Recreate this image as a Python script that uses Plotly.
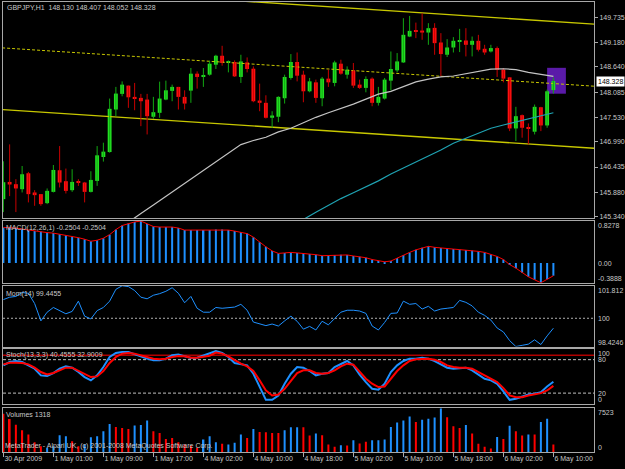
import plotly.graph_objects as go

W, H = 625, 469

# ---------------- data ----------------
bars = list(range(89))
time_labels = ["30 Apr 2009", "1 May 01:00", "1 May 09:00", "1 May 17:00", "4 May 02:00",
               "4 May 10:00", "4 May 18:00", "5 May 02:00", "5 May 10:00", "5 May 18:00",
               "6 May 02:00", "6 May 10:00"]
time_label_bars = [0, 8, 16, 24, 32, 40, 48, 56, 64, 72, 80, 88]

opens = [145.728, 146.107, 146.057, 145.947, 146.298, 145.875, 145.838, 145.640, 145.888, 146.364,
         146.123, 145.925, 146.101, 146.094, 145.888, 146.129, 146.656, 146.765, 147.702, 148.046,
         148.228, 147.980, 147.958, 147.921, 147.542, 147.629, 147.921, 148.112, 148.200, 147.980,
         148.118, 148.491, 148.432, 148.469, 148.689, 148.886, 148.748, 148.748, 148.419, 148.739,
         148.601, 147.899, 147.849, 147.520, 147.542, 147.950, 148.397, 148.748, 148.469, 148.103,
         148.300, 147.950, 148.382, 148.287, 148.711, 148.469, 148.564, 148.250, 148.178, 148.382,
         147.849, 147.943, 148.338, 148.564, 148.739, 149.309, 149.423, 149.441, 149.397, 149.500,
         149.178, 148.908, 149.068, 149.208, 149.222, 149.127, 149.215, 149.040, 148.980, 149.055,
         148.579, 148.410, 147.285, 147.577, 147.307, 147.213, 147.752, 147.351, 148.130]
highs = [146.561, 146.934, 146.167, 146.458, 146.327, 145.925, 145.838, 145.963, 146.480, 146.897,
         146.401, 146.386, 146.167, 146.107, 146.342, 146.897, 146.971, 147.943, 148.200, 148.322,
         148.228, 148.287, 148.046, 148.046, 147.980, 148.316, 148.338, 148.250, 148.200, 148.125,
         148.616, 148.542, 148.616, 148.776, 148.908, 149.105, 148.783, 148.783, 148.908, 148.849,
         148.651, 148.272, 148.015, 147.664, 147.993, 148.469, 148.923, 148.958, 148.557, 148.397,
         148.360, 148.419, 148.579, 148.776, 148.798, 148.651, 148.726, 148.360, 148.432, 148.410,
         148.200, 148.397, 148.980, 148.945, 149.713, 149.763, 149.616, 149.822, 149.603, 149.603,
         149.384, 149.252, 149.296, 149.478, 149.493, 149.309, 149.346, 149.127, 149.127, 149.090,
         148.616, 148.410, 147.761, 147.592, 147.395, 147.811, 147.761, 148.140, 148.407]
lows = [145.443, 145.794, 145.443, 145.875, 145.656, 145.581, 145.581, 145.618, 145.875, 145.985,
        145.853, 145.888, 146.020, 145.656, 145.875, 146.020, 146.555, 146.752, 147.555, 147.993,
        147.739, 147.686, 147.335, 147.153, 147.498, 147.520, 147.906, 147.884, 147.702, 147.702,
        147.849, 148.162, 148.200, 148.447, 148.594, 148.667, 148.520, 148.419, 148.287, 148.520,
        147.862, 147.664, 147.504, 147.300, 147.423, 147.833, 148.360, 148.322, 147.862, 148.081,
        147.849, 147.774, 148.200, 148.213, 148.469, 148.382, 148.178, 148.156, 148.081, 147.774,
        147.789, 147.921, 148.125, 148.520, 148.726, 149.296, 149.274, 149.237, 149.127, 148.908,
        148.432, 148.858, 148.958, 148.967, 148.871, 148.871, 148.980, 148.908, 148.958, 148.419,
        148.300, 147.226, 147.007, 147.081, 146.934, 147.153, 147.226, 147.300, 148.052]
closes = [146.101, 146.050, 145.963, 146.276, 145.838, 145.816, 145.618, 145.910, 146.371, 146.094,
          145.910, 146.107, 146.086, 145.888, 146.151, 146.693, 146.774, 147.717, 148.053, 148.250,
          147.971, 147.943, 147.884, 147.555, 147.643, 147.943, 148.125, 148.200, 147.980, 147.833,
          148.491, 148.419, 148.463, 148.711, 148.886, 148.726, 148.761, 148.432, 148.761, 148.594,
          147.884, 147.849, 147.520, 147.570, 147.980, 148.419, 148.748, 148.447, 148.103, 148.322,
          147.958, 148.382, 148.300, 148.739, 148.491, 148.579, 148.228, 148.178, 148.375, 147.849,
          147.980, 148.360, 148.594, 148.761, 149.347, 149.434, 149.412, 149.397, 149.493, 149.164,
          148.923, 149.068, 149.215, 149.222, 149.127, 149.215, 149.018, 148.958, 149.055, 148.579,
          148.382, 147.285, 147.555, 147.300, 147.294, 147.761, 147.351, 148.103, 148.328]

price_ticks = [149.735, 149.180, 148.640, 148.085, 147.530, 146.990, 146.435, 145.880, 145.340]
price_range = [145.311, 150.070]

# moving averages (bar index, price)
gray_ma_x = [20, 21, 22, 24, 26, 28, 30, 32, 34, 36, 38, 40, 42, 44, 46, 48, 50, 52, 54, 56,
             58, 60, 62, 64, 66, 68, 70, 72, 74, 76, 78, 80, 82, 84, 86, 88]
gray_ma = [145.22, 145.31, 145.41, 145.60, 145.79, 145.98, 146.17, 146.36, 146.56, 146.74,
           146.93, 147.02, 147.09, 147.21, 147.29, 147.41, 147.53, 147.63, 147.72, 147.82,
           147.93, 148.04, 148.10, 148.21, 148.31, 148.37, 148.42, 148.44, 148.49, 148.55,
           148.59, 148.60, 148.58, 148.52, 148.48, 148.43]
teal_ma_x = [47, 48, 50, 52, 54, 56, 58, 60, 62, 64, 66, 68, 70, 72, 74, 76, 78, 80, 82, 84, 86, 88]
teal_ma = [145.21, 145.28, 145.44, 145.59, 145.74, 145.87, 146.00, 146.13, 146.28, 146.41, 146.55,
           146.68, 146.81, 146.96, 147.07, 147.17, 147.29, 147.36, 147.43, 147.50, 147.57, 147.63]

# equidistant channel (bar index, price)
channel_x = [-1, 95]
channel_upper = [150.444, 149.578]
channel_mid = [149.067, 148.211]
channel_lower = [147.707, 146.845]

# rectangle object
rect_t0, rect_t1 = 87.0, 90.0
rect_lo, rect_hi = 148.05, 148.62

macd = [0.70, 0.70, 0.69, 0.67, 0.65, 0.63, 0.62, 0.60, 0.59, 0.57,
        0.55, 0.52, 0.50, 0.47, 0.43, 0.45, 0.49, 0.56, 0.66, 0.74,
        0.78, 0.81, 0.8278, 0.77, 0.72, 0.71, 0.71, 0.71, 0.69, 0.65,
        0.65, 0.65, 0.65, 0.65, 0.66, 0.66, 0.65, 0.63, 0.61, 0.58,
        0.51, 0.41, 0.32, 0.24, 0.19, 0.20, 0.21, 0.20, 0.19, 0.18,
        0.165, 0.145, 0.15, 0.16, 0.165, 0.16, 0.14, 0.125, 0.105, 0.07,
        0.04, 0.025, 0.04, 0.10, 0.16, 0.21, 0.26, 0.30, 0.33, 0.31,
        0.295, 0.285, 0.275, 0.265, 0.255, 0.245, 0.23, 0.21, 0.17, 0.13,
        0.07, -0.03, -0.10, -0.19, -0.27, -0.33, -0.3888, -0.32, -0.2504]
macd_range = [-0.3888, 0.8278]

mom = [101.042, 101.174, 101.218, 101.438, 101.394, 100.822, 99.854, 100.338, 100.602, 100.448,
       100.250, 100.382, 100.954, 100.118, 99.964, 100.426, 100.602, 100.954, 101.614, 101.812,
       101.768, 101.548, 101.174, 101.086, 101.284, 101.372, 101.504, 101.702, 101.394, 100.866,
       101.218, 100.558, 100.338, 100.338, 100.602, 100.558, 100.580, 100.624, 100.778, 100.448,
       99.788, 99.678, 99.590, 99.678, 99.568, 99.854, 100.118, 99.832, 99.392, 99.546,
       99.348, 99.832, 99.634, 99.986, 100.338, 100.448, 100.448, 100.404, 100.272, 99.568,
       99.348, 99.766, 100.272, 100.294, 100.954, 100.778, 100.822, 100.514, 100.668, 100.404,
       100.514, 100.558, 100.602, 100.998, 100.888, 100.690, 100.338, 100.162, 99.898, 99.458,
       99.238, 98.755, 98.4246, 98.491, 98.557, 98.799, 98.535, 99.018, 99.4455]
mom_range = [98.4246, 101.812]
mom_level = 100

stoch_k = [69.8, 75.8, 77.6, 75.8, 69.8, 63.8, 51.8, 50.6, 56.0, 63.8,
           68.0, 65.6, 57.8, 48.8, 42.8, 51.8, 66.8, 84.8, 92.0, 93.8,
           93.8, 89.6, 84.8, 81.8, 78.8, 78.8, 81.8, 87.8, 89.0, 86.0,
           83.0, 83.6, 87.8, 91.0, 95.6, 92.0, 84.8, 74.0, 71.6, 69.8,
           54.8, 30.8, 8.0, 8.0, 15.8, 36.8, 54.8, 66.8, 65.6, 59.6,
           51.8, 54.8, 56.0, 66.8, 72.8, 77.6, 69.8, 53.0, 39.8, 27.8,
           26.0, 36.8, 57.8, 69.8, 77.6, 81.8, 81.8, 83.6, 81.8, 77.6,
           71.6, 65.6, 63.8, 65.0, 65.6, 60.8, 53.6, 45.8, 42.8, 36.8,
           23.0, 8.0, 9.8, 14.0, 17.6, 18.8, 21.8, 32.0, 40.4555]
stoch_d = [71.6, 74.6, 74.6, 74.0, 71.6, 65.6, 57.8, 53.6, 56.0, 60.8,
           65.6, 65.6, 59.6, 54.8, 48.8, 50.0, 59.6, 74.0, 84.8, 90.8,
           92.0, 90.8, 87.8, 84.8, 81.8, 80.6, 81.8, 84.8, 86.6, 86.0,
           83.6, 83.6, 84.8, 87.0, 92.6, 90.8, 86.0, 78.8, 72.8, 68.0,
           59.6, 42.8, 24.8, 15.8, 17.6, 27.8, 42.8, 56.0, 60.8, 60.8,
           56.0, 54.8, 56.0, 60.8, 68.0, 72.8, 71.0, 59.0, 45.8, 36.8,
           30.8, 32.0, 45.8, 59.6, 69.8, 77.6, 80.6, 81.8, 81.8, 80.0,
           75.8, 69.8, 66.8, 65.6, 65.6, 63.8, 57.8, 51.8, 45.8, 39.8,
           29.0, 15.8, 12.8, 12.8, 15.8, 17.6, 20.0, 24.8, 32.9009]
stoch_levels = [80, 20]
stoch_red_level = 88

volumes = [6561, 5656, 4694, 3733, 2998, 1697, 1018, 735, 1018, 2885,
           2715, 1866, 1018, 1301, 2545, 2715, 3563, 4808, 4299, 4129,
           3959, 4581, 4650, 5430, 3563, 3280, 2262, 2432, 1697, 1301,
           1131, 735, 2149, 2715, 1697, 1414, 1301, 1584, 2998, 2432,
           3959, 3450, 3394, 3280, 3280, 3733, 4242, 4242, 4242, 2828,
           3167, 2885, 1301, 905, 1188, 1131, 2036, 1471, 1753, 2036,
           2036, 2149, 4299, 5090, 5430, 6108, 5147, 5543, 5713, 5939,
           7523, 5995, 4412, 4129, 4638, 3167, 1414, 905, 622, 2602,
           2262, 4525, 3563, 2828, 2998, 2998, 5147, 5713, 1318]
vol_up = [0, 0, 0, 0, 0, 0, 0, 1, 1, 1, 1, 0, 0, 1, 1, 1, 1, 1, 0, 0,
          0, 1, 1, 1, 0, 0, 0, 0, 0, 0, 0, 0, 1, 1, 1, 0, 1, 1, 1, 0,
          1, 0, 0, 0, 0, 1, 1, 1, 0, 0, 1, 0, 0, 0, 1, 0, 1, 0, 0, 1,
          1, 1, 1, 1, 1, 1, 0, 1, 1, 1, 1, 0, 0, 0, 1, 0, 0, 0, 0, 1,
          0, 1, 0, 0, 1, 0, 1, 1, 0]
vol_max = 7523

# ---------------- styling ----------------
FONT = "Liberation Sans"
TXT = "#c8c8c8"
FRAME = "#a8a8a8"
BULL_BODY, BULL_WICK = "#22e022", "#12a812"
BEAR_BODY, BEAR_WICK = "#ff1010", "#c80000"
BLUE, RED = "#1e90ff", "#ff0000"
YELLOW = "#c8c800"


def px_x(p):
    return p / W


def px_y(p):
    return 1 - p / H


X_DOM = [px_x(3), px_x(594)]
X_RANGE = [-0.06, 94.5]
Y_DOMS = {1: [px_y(219), px_y(2)], 2: [px_y(284), px_y(222)], 3: [px_y(348), px_y(287)],
          4: [px_y(406), px_y(350)], 5: [px_y(454), px_y(410)]}

fig = go.Figure()

# channel + dashed median
fig.add_trace(go.Scatter(x=channel_x, y=channel_upper, mode="lines", line=dict(color=YELLOW, width=1.4),
                         xaxis="x", yaxis="y", hoverinfo="skip"))
fig.add_trace(go.Scatter(x=channel_x, y=channel_lower, mode="lines", line=dict(color=YELLOW, width=1.4),
                         xaxis="x", yaxis="y", hoverinfo="skip"))
fig.add_trace(go.Scatter(x=channel_x, y=channel_mid, mode="lines",
                         line=dict(color=YELLOW, width=1, dash="3px,2px"),
                         xaxis="x", yaxis="y", hoverinfo="skip"))

# candles
up = [i for i in bars if closes[i] >= opens[i]]
dn = [i for i in bars if closes[i] < opens[i]]


def wick(idx):
    xs, ys = [], []
    for i in idx:
        xs += [i, i, None]
        ys += [lows[i], highs[i], None]
    return xs, ys


MIN_BODY = 0.02
for idx, wc in ((up, BULL_WICK), (dn, BEAR_WICK)):
    wx, wy = wick(idx)
    fig.add_trace(go.Scatter(x=wx, y=wy, mode="lines", line=dict(color=wc, width=1),
                             xaxis="x", yaxis="y", hoverinfo="skip"))
fig.add_trace(go.Bar(x=up, base=[opens[i] for i in up],
                     y=[max(closes[i] - opens[i], MIN_BODY) for i in up],
                     width=0.62, marker=dict(color=BULL_BODY, line=dict(width=0)),
                     xaxis="x", yaxis="y"))
fig.add_trace(go.Bar(x=dn, base=[closes[i] for i in dn],
                     y=[max(opens[i] - closes[i], MIN_BODY) for i in dn],
                     width=0.62, marker=dict(color=BEAR_BODY, line=dict(width=0)),
                     xaxis="x", yaxis="y"))

# moving averages
fig.add_trace(go.Scatter(x=gray_ma_x, y=gray_ma, mode="lines", line=dict(color="#c4c4c4", width=1.2),
                         xaxis="x", yaxis="y"))
fig.add_trace(go.Scatter(x=teal_ma_x, y=teal_ma, mode="lines", line=dict(color="#1fa3b3", width=1.2),
                         xaxis="x", yaxis="y"))

# MACD
fig.add_trace(go.Bar(x=bars, y=macd, width=0.32, marker=dict(color=BLUE, line=dict(width=0)),
                     xaxis="x2", yaxis="y2"))
fig.add_trace(go.Scatter(x=bars, y=macd, mode="lines", line=dict(color=RED, width=1),
                         xaxis="x2", yaxis="y2"))

# Momentum
fig.add_trace(go.Scatter(x=bars, y=mom, mode="lines", line=dict(color=BLUE, width=1),
                         xaxis="x3", yaxis="y3"))

# Stochastic
fig.add_trace(go.Scatter(x=bars, y=stoch_k, mode="lines", line=dict(color=BLUE, width=2),
                         xaxis="x4", yaxis="y4"))
fig.add_trace(go.Scatter(x=bars, y=stoch_d, mode="lines", line=dict(color=RED, width=2),
                         xaxis="x4", yaxis="y4"))

# Volumes
fig.add_trace(go.Bar(x=bars, y=volumes, width=0.32,
                     marker=dict(color=[BLUE if u else RED for u in vol_up], line=dict(width=0)),
                     xaxis="x5", yaxis="y5"))

# ---------------- axes ----------------
layout = dict(width=W, height=H, margin=dict(l=0, r=0, t=0, b=0),
              paper_bgcolor="black", plot_bgcolor="black", showlegend=False,
              barmode="overlay", font=dict(family=FONT, size=7, color=TXT))
yranges = {1: price_range, 2: macd_range, 3: mom_range, 4: [0, 100], 5: [0, vol_max]}
for n in range(1, 6):
    sx = "" if n == 1 else str(n)
    xa = dict(domain=X_DOM, range=X_RANGE, anchor="y" + sx, showgrid=False, zeroline=False,
              showline=True, mirror=True, linecolor=FRAME, linewidth=1, showticklabels=False,
              ticks="", fixedrange=True)
    if n == 5:
        xa.update(tickmode="array", tickvals=time_label_bars, ticktext=time_labels,
                  showticklabels=True, ticks="outside", ticklen=4, tickcolor=FRAME,
                  ticklabelposition="outside right", tickfont=dict(family=FONT, size=7, color=TXT))
    ya = dict(domain=Y_DOMS[n], range=yranges[n], anchor="x" + sx, side="right", showgrid=False,
              zeroline=False, showline=True, mirror=True, linecolor=FRAME, linewidth=1,
              showticklabels=False, ticks="", fixedrange=True)
    if n == 1:
        ya.update(tickmode="array", tickvals=price_ticks, ticktext=[f"{v:.3f}" for v in price_ticks],
                  showticklabels=True, ticks="outside", ticklen=3, tickcolor=FRAME,
                  tickfont=dict(family=FONT, size=7, color=TXT))
    layout["xaxis" + sx] = xa
    layout["yaxis" + sx] = ya
fig.update_layout(**layout)

# ---------------- shapes ----------------
shapes = [
    dict(type="rect", xref="x", yref="y", x0=rect_t0, x1=rect_t1, y0=rect_lo, y1=rect_hi,
         fillcolor="#5a1aa8", line=dict(width=0), layer="below"),
    dict(type="line", xref="x3 domain", yref="y3", x0=0, x1=1, y0=mom_level, y1=mom_level,
         line=dict(color="#b0b0b0", width=1, dash="2px,2px"), layer="below"),
    dict(type="line", xref="x4 domain", yref="y4", x0=0, x1=1, y0=stoch_red_level, y1=stoch_red_level,
         line=dict(color="#b00000", width=1.5), layer="below"),
]
for lv in stoch_levels:
    shapes.append(dict(type="line", xref="x4 domain", yref="y4", x0=0, x1=1, y0=lv, y1=lv,
                       line=dict(color="#c0c0c0", width=1, dash="3px,2px"), layer="below"))
fig.update_layout(shapes=shapes)

# ---------------- annotations ----------------
ann = []


def label(text, x, y, yref="paper", xanchor="left", yanchor="middle", **kw):
    ann.append(dict(text=text, x=x, y=y, xref="paper", yref=yref, xanchor=xanchor, yanchor=yanchor,
                    showarrow=False, font=dict(family=FONT, size=7, color=kw.pop("color", TXT)),
                    borderpad=kw.pop("borderpad", 0), **kw))


label(f"GBPJPY,H1  {opens[-1]:.3f} {highs[-1]:.3f} {lows[-1]:.3f} {closes[-1]:.3f}", px_x(6), px_y(8))
label(f"MACD(12,26,1) {macd[-1]:.4f} {macd[-1]:.4f}", px_x(5), px_y(229))
label(f"Mom(14) {mom[-1]:.4f}", px_x(5), px_y(295))
label(f"Stoch(13,3,3) {stoch_k[-1]:.4f} {stoch_d[-1]:.4f}", px_x(5), px_y(357))
label(f"Volumes {volumes[-1]}", px_x(5), px_y(416))
label("MetaTrader - Alpari UK, (c) 2001-2008 MetaQuotes Software Corp.", px_x(4), px_y(448))

RX = px_x(597)
label(f"{macd_range[1]:.4f}", RX, macd_range[1], yref="y2", yanchor="top")
label("0.00", RX, 0, yref="y2")
label(f"{macd_range[0]:.4f}", RX, macd_range[0], yref="y2", yanchor="bottom")
label(f"{mom_range[1]:.3f}", RX, mom_range[1], yref="y3", yanchor="top")
label(f"{mom_level}", RX, mom_level, yref="y3")
label(f"{mom_range[0]:.4f}", RX, mom_range[0], yref="y3", yanchor="bottom")
label("100", RX, 100, yref="y4", yanchor="top")
label("80", RX, 80, yref="y4")
label("20", RX, 20, yref="y4")
label("0", RX, 0, yref="y4", yanchor="bottom")
label(f"{vol_max}", RX, vol_max, yref="y5", yanchor="top")
label("0", RX, 0, yref="y5", yanchor="bottom")

# current price box
label(f"{closes[-1]:.3f}", px_x(596), closes[-1], yref="y", color="black", bgcolor="white", borderpad=1)

fig.update_layout(annotations=ann)
fig.write_html("out.html")
